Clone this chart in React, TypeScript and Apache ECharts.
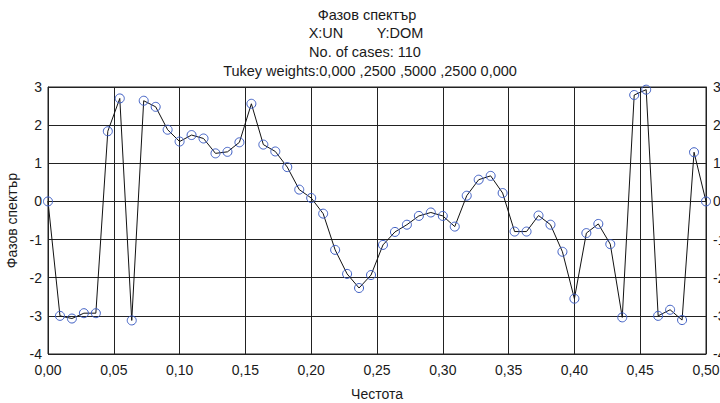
import React, { useEffect, useRef } from "react";
import * as echarts from "echarts";

// Number of cases (frequencies are k / N, k = 0..55)
const CASES = 110;

// Phase spectrum values, one per frequency k/110
const phaseValues: number[] = [
  0.0, -3.0, -3.07, -2.93, -2.93, 1.84, 2.7, -3.12, 2.64, 2.48,
  1.88, 1.57, 1.74, 1.65, 1.26, 1.3, 1.55, 2.56, 1.49, 1.31,
  0.9, 0.31, 0.09, -0.32, -1.27, -1.9, -2.27, -1.93, -1.14, -0.8,
  -0.61, -0.38, -0.29, -0.38, -0.66, 0.15, 0.57, 0.67, 0.22, -0.79,
  -0.79, -0.37, -0.61, -1.32, -2.55, -0.83, -0.59, -1.12, -3.04, 2.79,
  2.93, -3.0, -2.84, -3.11, 1.29, 0.0,
];

const titleLines: string[] = [
  "Фазов спектър",
  "No. of cases: 110",
  "Tukey weights:0,000 ,2500 ,5000 ,2500 0,000",
];
const varLabels: string[] = ["X:UN", "Y:DOM"];

const xAxisName = "Честота";
const yAxisName = "Фазов спектър";

const xMin = 0;
const xMax = 0.5;
const xStep = 0.05;
const yMin = -4;
const yMax = 3;
const yStep = 1;

const FONT = "Arial, 'Liberation Sans', sans-serif";

export default function App() {
  const ref = useRef<HTMLDivElement>(null);

  useEffect(() => {
    if (!ref.current) return;
    const chart = echarts.init(ref.current, null, { renderer: "svg" });
    const data = phaseValues.map((v, k) => [k / CASES, v]);
    const fmtX = (v: number) => v.toFixed(2).replace(".", ",");
    const textColor = "#1a1a1a";
    const titleFont = `14.5px ${FONT}`;

    chart.setOption({
      animation: false,
      backgroundColor: "#ffffff",
      textStyle: { fontFamily: FONT },
      graphic: [
        {
          type: "text",
          x: 367,
          y: 15,
          style: { text: titleLines[0], font: titleFont, fill: textColor, textAlign: "center", textVerticalAlign: "middle" },
        },
        {
          type: "text",
          x: 326,
          y: 33,
          style: { text: varLabels[0], font: titleFont, fill: textColor, textAlign: "center", textVerticalAlign: "middle" },
        },
        {
          type: "text",
          x: 400,
          y: 33,
          style: { text: varLabels[1], font: titleFont, fill: textColor, textAlign: "center", textVerticalAlign: "middle" },
        },
        {
          type: "text",
          x: 365,
          y: 52,
          style: { text: titleLines[1], font: titleFont, fill: textColor, textAlign: "center", textVerticalAlign: "middle" },
        },
        {
          type: "text",
          x: 370,
          y: 71,
          style: { text: titleLines[2], font: titleFont, fill: textColor, textAlign: "center", textVerticalAlign: "middle" },
        },
      ],
      grid: {
        left: 48,
        right: 14,
        top: 87,
        bottom: 49,
        containLabel: false,
        outerBoundsMode: "none",
        show: true,
        borderColor: "#222",
        borderWidth: 1,
        backgroundColor: "transparent",
      },
      xAxis: {
        type: "value",
        min: xMin,
        max: xMax,
        interval: xStep,
        name: xAxisName,
        nameLocation: "middle",
        nameGap: 33,
        nameTextStyle: { fontSize: 14, color: textColor, fontFamily: FONT },
        axisLine: { show: true, lineStyle: { color: "#222" } },
        axisTick: { show: false },
        axisLabel: { fontSize: 14, color: textColor, margin: 9, formatter: fmtX, fontFamily: FONT },
        splitLine: { show: true, lineStyle: { color: "#222", width: 1 } },
      },
      yAxis: [
        {
          type: "value",
          min: yMin,
          max: yMax,
          interval: yStep,
          name: yAxisName,
          nameLocation: "middle",
          nameGap: 29,
          nameRotate: 90,
          nameTextStyle: { fontSize: 14, color: textColor, fontFamily: FONT },
          axisLine: { show: true, lineStyle: { color: "#222" } },
          axisTick: { show: false },
          axisLabel: { fontSize: 14, color: textColor, margin: 6, fontFamily: FONT },
          splitLine: { show: true, lineStyle: { color: "#222", width: 1 } },
        },
        {
          type: "value",
          position: "right",
          min: yMin,
          max: yMax,
          interval: yStep,
          axisLine: { show: true, lineStyle: { color: "#222" } },
          axisTick: { show: false },
          axisLabel: { fontSize: 14, color: textColor, margin: 7, fontFamily: FONT },
          splitLine: { show: false },
        },
      ],
      series: [
        {
          type: "line",
          data,
          yAxisIndex: 0,
          symbol: "circle",
          symbolSize: 9,
          lineStyle: { color: "#111", width: 1 },
          itemStyle: { color: "rgba(0,0,0,0)", borderColor: "#3f5fc4", borderWidth: 1 },
          emphasis: { disabled: true },
          z: 3,
        },
      ],
    });

    return () => chart.dispose();
  }, []);

  return (
    <div
      ref={ref}
      style={{ position: "absolute", left: 0, top: 0, width: 720, height: 403 }}
    />
  );
}
